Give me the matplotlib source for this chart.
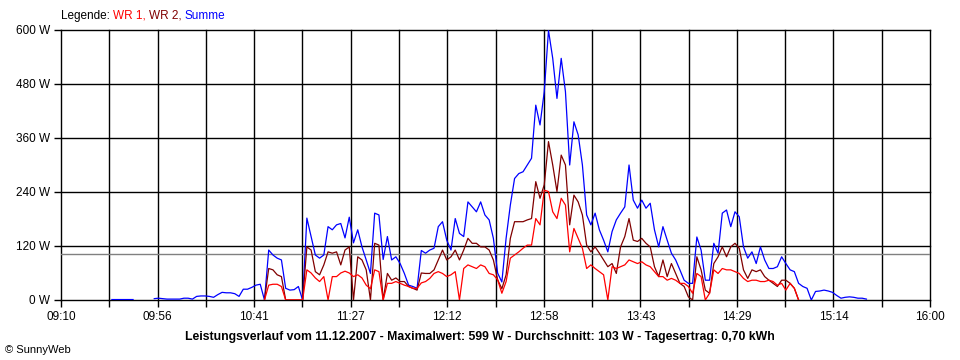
import matplotlib
matplotlib.use("Agg")
import matplotlib.pyplot as plt
import numpy as np

# Messwerte (W), Abtastung alle 2 Minuten
intervall = 2  # min
start_summe = 9 * 60 + 34   # 09:34
start_wr = 10 * 60 + 46     # 10:46

nan = np.nan
summe = [1, 1, 1, 1, 1, 1, nan, nan, nan, nan,
         3, 4, 3, 2, 2, 2, 2, 4, 4, 2,
         8, 9, 9, 8, 6, 12, 17, 16, 16, 14,
         8, 24, 24, 28, 33, 35,
         0, 111, 100, 93, 89, 26, 22, 23, 30, 0,
         182, 141, 100, 93, 100, 163, 156, 167, 170, 138,
         184, 127, 156, 118, 89, 59, 193, 189, 90, 141,
         89, 96, 81, 59, 33, 30, 26, 110, 104, 111,
         115, 163, 174, 133, 111, 181, 148, 141, 218, 207,
         196, 218, 189, 178, 137, 60, 40, 137, 211, 270,
         281, 285, 300, 315, 433, 389, 463, 599, 537, 448,
         537, 463, 300, 396, 367, 300, 189, 167, 193, 156,
         133, 107, 152, 178, 193, 207, 300, 222, 204, 222,
         204, 215, 156, 118, 163, 133, 104, 89, 67, 44,
         37, 37, 140, 111, 44, 44, 126, 104, 193, 200,
         163, 196, 185, 118, 93, 107, 81, 118, 89, 70,
         70, 74, 96, 81, 67, 63, 37,
         30, 26, 0, 19, 20, 22, 20, 17, 10, 4,
         6, 7, 6, 4, 4, 2]

wr2 = [0, 70, 67, 56, 52, 0, 0, 0, 0, 0,
       118, 111, 63, 56, 78, 107, 104, 107, 78, 111,
       118, 0, 96, 89, 67, 0, 126, 122, 0, 59,
       44, 49, 41, 41, 30, 26, 22, 60, 59, 59,
       67, 89, 111, 89, 96, 111, 89, 111, 137, 126,
       126, 118, 118, 111, 89, 45, 25, 56, 137, 174,
       174, 174, 178, 181, 263, 226, 256, 352, 300, 241,
       322, 300, 167, 233, 218, 189, 122, 107, 118, 104,
       89, 74, 81, 59, 118, 141, 181, 133, 130, 137,
       126, 118, 74, 52, 89, 52, 81, 59, 37, 30,
       7, 0, 96, 67, 22, 15, 81, 96, 118, 96,
       118, 126, 115, 67, 48, 67, 63, 67, 52, 44,
       37, 30, 44, 44, 37, 26, 0]

wr1 = [0, 33, 35, 35, 30, 0, 0, 0, 0, 0,
       67, 60, 49, 41, 52, 0, 52, 52, 60, 64,
       60, 52, 56, 49, 33, 25, 67, 63, 0, 37,
       37, 41, 37, 33, 30, 26, 26, 38, 41, 48,
       59, 63, 59, 52, 56, 63, 0, 70, 78, 74,
       70, 78, 74, 59, 56, 45, 15, 41, 93, 100,
       107, 115, 122, 122, 181, 167, 244, 241, 196, 181,
       226, 211, 107, 159, 137, 115, 70, 78, 70, 63,
       56, 0, 74, 70, 74, 78, 89, 85, 81, 85,
       78, 74, 63, 52, 52, 44, 48, 44, 37, 37,
       30, 15, 59, 52, 0, 15, 67, 59, 70, 67,
       67, 63, 59, 48, 41, 44, 44, 41, 41, 44,
       41, 33, 37, 22, 37, 26, 0]

durchschnitt = 103
y_ticks = [0, 120, 240, 360, 480, 600]
x_labels = ["09:10", "09:56", "10:41", "11:27", "12:12",
            "12:58", "13:43", "14:29", "15:14", "16:00"]
titel = ("Leistungsverlauf vom 11.12.2007 - Maximalwert: 599 W - "
         "Durchschnitt: 103 W - Tagesertrag: 0,70 kWh")

t0 = 9 * 60 + 10
t1 = 16 * 60
t_summe = start_summe + intervall * np.arange(len(summe))
t_wr = start_wr + intervall * np.arange(len(wr1))

plt.rcParams['font.family'] = ['Liberation Sans', 'DejaVu Sans']

fig = plt.figure(figsize=(9.6, 3.6), dpi=100)
ax = fig.add_axes([61 / 960, 60 / 360, 869 / 960, 270 / 360])

# Gitter
x_grid = np.linspace(t0, t1, 19)
for xg in x_grid:
    ax.axvline(xg, color='black', lw=1.0, zorder=1, clip_on=False)
for yg in y_ticks:
    ax.axhline(yg, color='black', lw=1.0, zorder=1, clip_on=False)
ax.axhline(durchschnitt, color='#808080', lw=1.0, zorder=1)

ax.plot(t_summe, summe, color='#0000ff', lw=0.9, zorder=3)
ax.plot(t_wr, wr2, color='#800000', lw=0.9, zorder=4)
ax.plot(t_wr, wr1, color='#ff0000', lw=0.9, zorder=5)

ax.set_xlim(t0, t1)
ax.set_ylim(0, 600)
for s in ax.spines.values():
    s.set_visible(False)

ax.set_xticks(x_grid)
ax.set_xticklabels([x_labels[i // 2] if i % 2 == 0 else "" for i in range(19)])
ax.set_yticks(y_ticks)
ax.set_yticklabels([f"{v} W" for v in y_ticks])
ax.tick_params(axis='both', length=5, width=1, color='black', labelsize=8.5,
               pad=3)

fig.text(480 / 960, 1 - 337 / 360, titel, ha='center', va='center',
         fontsize=8.8, fontweight='bold')
fig.text(5 / 960, 1 - 350 / 360, "© SunnyWeb", ha='left', va='center',
         fontsize=8)

# Legende mit farbigen Teilen
teile = [("Legende: ", 'black'), ("WR 1, ", '#ff0000'),
         ("WR 2, ", '#800000'), ("Summe", '#0000ff')]
renderer = fig.canvas.get_renderer()
x = 61 / 960
for txt, col in teile:
    t = fig.text(x, 1 - 16 / 360, txt, color=col, ha='left', va='center',
                 fontsize=8.5)
    bb = t.get_window_extent(renderer=renderer)
    x += bb.width / 960

fig.savefig("out.png", dpi=100)
